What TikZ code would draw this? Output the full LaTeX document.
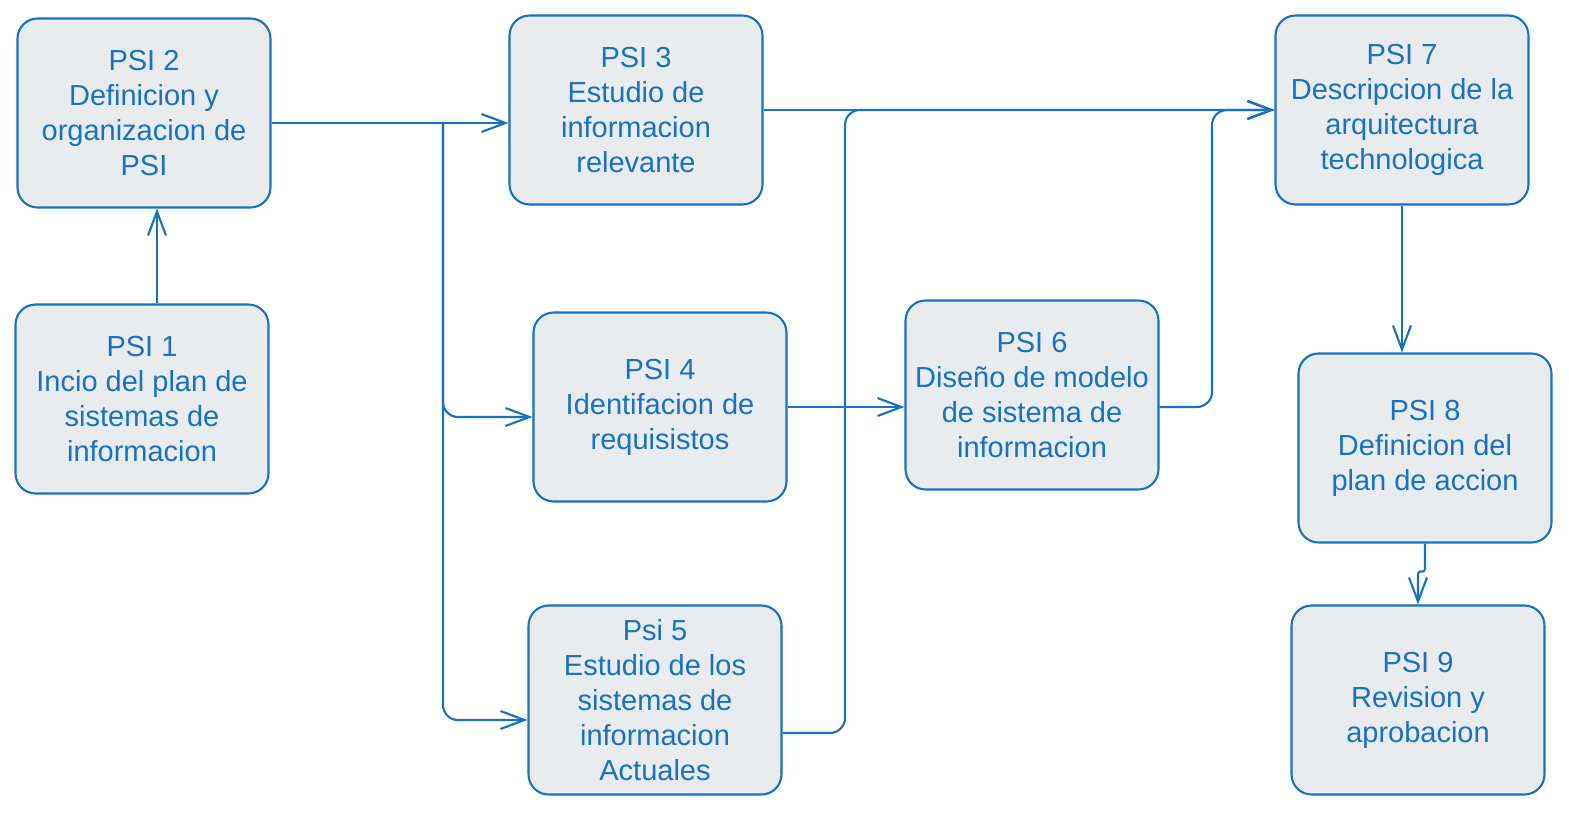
\documentclass[tikz,border=0pt]{standalone}
\usepackage{fontspec}
\setmainfont{Liberation Sans}
\usepackage{tikz}
\usetikzlibrary{arrows.meta}
\definecolor{psiblue}{HTML}{1971C2}
\definecolor{psifill}{HTML}{E9ECEF}

\begin{document}
\begin{tikzpicture}[x=0.02cm, y=-0.02cm,
  psibox/.style={draw=psiblue, fill=psifill, line width=1.2pt, rounded corners=0.4cm,
    minimum width=5.06cm, minimum height=3.78cm, inner sep=0pt, align=center,
    text=psiblue, font=\fontsize{16.5}{19.9}\selectfont},
  arr/.style={draw=psiblue, line width=1.2pt, rounded corners=0.3cm,
    -{Straight Barb[length=4.8mm, width=3.6mm, line width=1.2pt]}}]
\useasboundingbox (0,0) rectangle (1569,812);
% boxes
\node[psibox] (p2) at (144,113) {PSI 2\\Definicion y\\organizacion de\\PSI};
\node[psibox] (p1) at (142,399) {PSI 1\\Incio del plan de\\sistemas de\\informacion};
\node[psibox] (p3) at (636,110) {PSI 3\\Estudio de\\informacion\\relevante};
\node[psibox] (p4) at (660,407) {PSI 4\\Identifacion de\\requisistos};
\node[psibox] (p5) at (655,700) {Psi 5\\Estudio de los\\sistemas de\\informacion\\Actuales};
\node[psibox] (p6) at (1032,395) {PSI 6\\Diseño de modelo\\de sistema de\\informacion};
\node[psibox] (p7) at (1402,110) {PSI 7\\Descripcion de la\\arquitectura\\technologica};
\node[psibox] (p8) at (1425,448) {PSI 8\\Definicion del\\plan de accion};
\node[psibox] (p9) at (1418,700) {PSI 9\\Revision y\\aprobacion};
% bend columns
\coordinate (c0) at (157,0);
\coordinate (c1) at (443,0);
\coordinate (c2) at (845,0);
\coordinate (c3) at (1212,0);
% connectors
\draw[arr] (p1.north -| c0) -- (p2.south -| c0);
\draw[arr] ([yshift=-0.2cm]p2.east) -- ([yshift=-0.2cm]p2.east -| p3.west);
\draw[arr] ([yshift=-0.2cm]p2.east -| c1) |- ([yshift=-0.2cm]p4.west);
\draw[arr] ([yshift=-0.2cm]p2.east -| c1) |- ([yshift=-0.4cm]p5.west);
\draw[arr] (p4.east) -- (p4.east -| p6.west);
\draw[arr] (p3.east) -- (p7.west);
\draw[arr] ([yshift=-0.66cm]p5.east) -| (c2 |- p7.west) -- (p7.west);
\draw[arr] ([yshift=-0.24cm]p6.east) -| (c3 |- p7.west) -- (p7.west);
\draw[arr] (p7.south) -- (p7.south |- p8.north);
\draw[arr, rounded corners=1.5pt] (p8.south) -- ++(0,28) -| (p9.north);
\end{tikzpicture}
\end{document}
